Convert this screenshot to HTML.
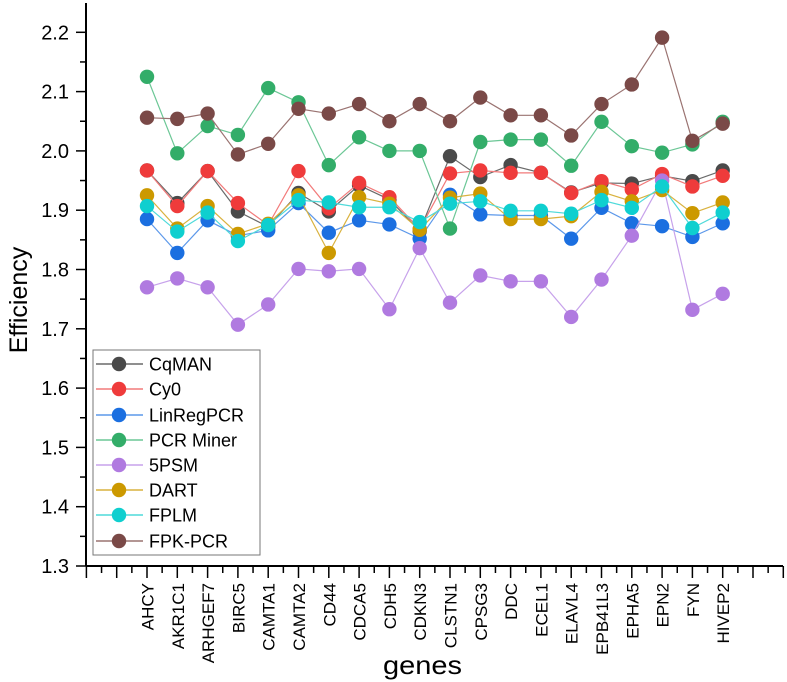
<!DOCTYPE html>
<html><head><meta charset="utf-8"><style>
html,body{margin:0;padding:0;background:#fff;}
svg{display:block;font-family:"Liberation Sans",Arial,sans-serif;}
</style></head><body>
<svg id="chart" width="787" height="682" viewBox="0 0 787 682" xmlns="http://www.w3.org/2000/svg"></svg>
<script>
const genes = ["AHCY","AKR1C1","ARHGEF7","BIRC5","CAMTA1","CAMTA2","CD44","CDCA5","CDH5","CDKN3","CLSTN1","CPSG3","DDC","ECEL1","ELAVL4","EPB41L3","EPHA5","EPN2","FYN","HIVEP2"];
const seriesNames = ["CqMAN","Cy0","LinRegPCR","PCR Miner","5PSM","DART","FPLM","FPK-PCR"];
const cqman =   [1.967,1.912,1.966,1.898,1.872,1.929,1.898,1.942,1.918,1.865,1.991,1.956,1.976,1.963,1.930,1.946,1.945,1.958,1.949,1.967];
const cy0 =     [1.967,1.907,1.966,1.912,1.875,1.966,1.903,1.946,1.922,1.868,1.962,1.967,1.963,1.963,1.929,1.949,1.935,1.961,1.940,1.958];
const linreg =  [1.885,1.828,1.883,1.857,1.866,1.912,1.862,1.883,1.876,1.852,1.926,1.893,1.891,1.891,1.852,1.904,1.878,1.873,1.855,1.878];
const pcrminer =[2.125,1.996,2.042,2.027,2.106,2.082,1.976,2.023,2.000,2.000,1.869,2.015,2.019,2.019,1.975,2.049,2.008,1.997,2.011,2.049];
const psm5 =    [1.770,1.785,1.770,1.707,1.741,1.801,1.797,1.801,1.733,1.836,1.744,1.790,1.780,1.780,1.720,1.783,1.857,1.950,1.732,1.759];
const dart =    [1.925,1.869,1.907,1.860,1.877,1.925,1.828,1.922,1.911,1.867,1.921,1.928,1.885,1.885,1.890,1.931,1.915,1.934,1.895,1.913];
const fplm =    [1.907,1.864,1.896,1.848,1.875,1.917,1.913,1.905,1.905,1.880,1.911,1.915,1.899,1.899,1.894,1.917,1.904,1.940,1.870,1.896];
const fpk =     [2.056,2.054,2.063,1.994,2.012,2.071,2.063,2.079,2.050,2.079,2.050,2.090,2.060,2.060,2.026,2.079,2.112,2.191,2.017,2.046];
const yTicks = ["1.3","1.4","1.5","1.6","1.7","1.8","1.9","2.0","2.1","2.2"];

const allSeries = [cqman,cy0,linreg,pcrminer,psm5,dart,fplm,fpk];
const markerColors = ["#4a4a4a","#ef3b3b","#1b6fe0","#33ad69","#b07ae0","#cc9900","#0fcfcf","#7a4947"];
const lineColors = ["#6a6a6a","#f27a7a","#5c98ea","#6cc796","#c7a2eb","#d9b23f","#4fdada","#9a7371"];

const NS="http://www.w3.org/2000/svg";
const svg=document.getElementById('chart');
function mk(tag,attrs,parent){const e=document.createElementNS(NS,tag);for(const k in attrs)e.setAttribute(k,attrs[k]);(parent||svg).appendChild(e);return e;}
const X0=86, XSTEP=30.3, XFIRST=147;
function xs(i){return XFIRST+i*XSTEP;}
function ys(v){return 566-(v-1.3)*593;}
const axisY=566;

const yAxis=mk('line',{x1:X0,y1:3,x2:X0,y2:axisY,stroke:'#000','stroke-width':2});


for(let k=0;k<yTicks.length;k++){
  const v=parseFloat(yTicks[k]); const y=ys(v);
  const t=mk('line',{x1:X0-10,y1:y,x2:X0,y2:y,stroke:'#000','stroke-width':1.5});
  
  
  const lb=mk('text',{x:X0-17,y:y+7,'text-anchor':'end','font-size':20,fill:'#000'});
  lb.textContent=yTicks[k];
  
  
  if(k<yTicks.length-1){
    const ym=ys(v+0.05);
    const mt=mk('line',{x1:X0-6,y1:ym,x2:X0,y2:ym,stroke:'#000','stroke-width':1.5});
    
    
  }
}
const xAxis=mk('line',{x1:X0,y1:axisY,x2:783,y2:axisY,stroke:'#000','stroke-width':2});


for(let i=-2;i<=21;i++){
  const x=xs(i);
  const t=mk('line',{x1:x,y1:axisY,x2:x,y2:axisY+12,stroke:'#000','stroke-width':1.5});
  
  
  if(i<21){
    const m=mk('line',{x1:x+XSTEP/2,y1:axisY,x2:x+XSTEP/2,y2:axisY+7,stroke:'#000','stroke-width':1.5});
    
    
  }
}
genes.forEach((g,i)=>{
  const x=xs(i)+6.5, y=axisY+17;
  const lb=mk('text',{x:x,y:y,'text-anchor':'end','font-size':17,fill:'#000',transform:`rotate(-90 ${x} ${y})`});
  lb.textContent=g;
  
  
});
const xt=mk('text',{x:383,y:674,'font-size':26,fill:'#000',textLength:79,lengthAdjust:'spacingAndGlyphs'});
xt.textContent='genes';


const yt=mk('text',{x:27,y:300,'text-anchor':'middle','font-size':25,fill:'#000',transform:'rotate(-90 27 300)'});
yt.textContent='Efficiency';



allSeries.forEach((arr,s)=>{
  const g=mk('g',{});
  
  
  const pts=arr.map((v,i)=>xs(i)+','+ys(v)).join(' ');
  const pl=mk('polyline',{points:pts,fill:'none',stroke:lineColors[s],'stroke-width':1.2},g);
  
  
  arr.forEach((v,i)=>{
    const c=mk('circle',{cx:xs(i),cy:ys(v),r:7.2,fill:markerColors[s]},g);
    
    
  });
});

const lg=mk('g',{});


const box=mk('rect',{x:93,y:350,width:167,height:205,fill:'#fff',stroke:'#777','stroke-width':1},lg);


const legY=[364,389,415,440,465,490,515,541];
seriesNames.forEach((n,s)=>{
  const y=legY[s];
  const e=mk('g',{},lg);
  
  
  mk('line',{x1:96,y1:y,x2:143,y2:y,stroke:lineColors[s],'stroke-width':1.5},e);
  mk('circle',{cx:119,cy:y,r:7.2,fill:markerColors[s]},e);
  const t=mk('text',{x:149,y:y+6.5,'font-size':18,fill:'#000'},e);
  t.textContent=n;
});
</script>
</body></html>
